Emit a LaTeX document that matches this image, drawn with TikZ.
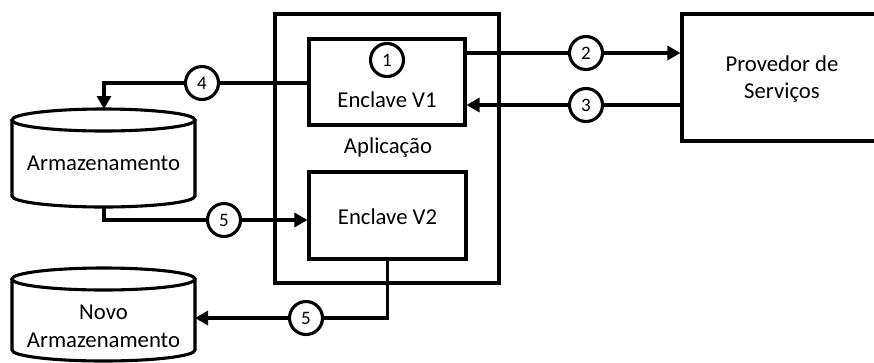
\documentclass[tikz,border=0pt]{standalone}
\usepackage{fontspec}
\setmainfont{Carlito}
\usetikzlibrary{arrows.meta}
\tikzset{
  ln/.style={line width=3.1pt},
  boxn/.style={ln, draw, rectangle, inner sep=0pt},
  txt/.style={font=\fontsize{22.7}{27.7}\selectfont, align=center, inner sep=0pt},
  num/.style={ln, draw, circle, fill=white, minimum size=33pt, inner sep=0pt, font=\fontsize{19}{22}\selectfont},
  arr/.style={ln, -{Triangle[length=13pt,width=14pt]}},
  con/.style={ln}
}
\begin{document}
\begin{tikzpicture}[x=1pt,y=-1pt]
\useasboundingbox (0,0) rectangle (874,362);
\fill[white] (0,0) rectangle (874,362);
\clip (0,0) rectangle (874,362);
% boxes
\node[boxn, minimum width=224pt, minimum height=269pt] (app) at (387,148.5) {};
\node[txt] (apptxt) at (388,148) {Aplicação};
\node[boxn, minimum width=156pt, minimum height=86pt] (v1) at (387,82) {};
\node[txt] (v1t) at (387,100) {Enclave V1};
\node[boxn, minimum width=157pt, minimum height=87pt] (v2) at (387.5,215.5) {};
\node[txt] (v2t) at (387.5,217) {Enclave V2};
\node[boxn, minimum width=200pt, minimum height=127pt] (prov) at (782,77.5) {};
\node[txt] (provt) at (782,79) {Provedor de\\Serviços};
% cylinders
\draw[ln, fill=white] (12,120) -- (12,196) arc[start angle=180,end angle=360,x radius=91.5pt,y radius=11pt] -- (195,120);
\draw[ln] (103.5,120) ellipse [x radius=91.5pt, y radius=11pt];
\node[txt] (arm) at (103.5,163) {Armazenamento};
\coordinate (armtop) at (104,109);
\coordinate (armbot) at (104,207);
\draw[ln, fill=white] (12,279) -- (12,350) arc[start angle=180,end angle=360,x radius=91.5pt,y radius=11pt] -- (195,279);
\draw[ln] (103.5,279) ellipse [x radius=91.5pt, y radius=11pt];
\node[txt] (novo) at (103.5,326) {Novo\\Armazenamento};
\coordinate (novor) at (195,318);
% circles
\node[num] (c1) at (387,60) {1};
\node[num] (c2) at (586,53) {2};
\node[num] (c3) at (586,105) {3};
\node[num] (c4) at (202,83) {4};
\node[num] (c5a) at (224,220) {5};
\node[num] (c5b) at (306,318) {5};
% connectors
\draw[arr] (v1.east |- c2) -- (c2) -- (prov.west |- c2);
\draw[arr] (prov.west |- c3) -- (c3) -- (v1.east |- c3);
\draw[arr] (v1.west |- c4) -- (c4) -- (armtop |- c4) -- (armtop);
\draw[arr] (armbot) -- (armbot |- c5a) -- (c5a) -- (v2.west |- c5a);
\draw[arr] (v2.south) -- (v2.south |- c5b) -- (c5b) -- (novor);
\end{tikzpicture}
\end{document}
